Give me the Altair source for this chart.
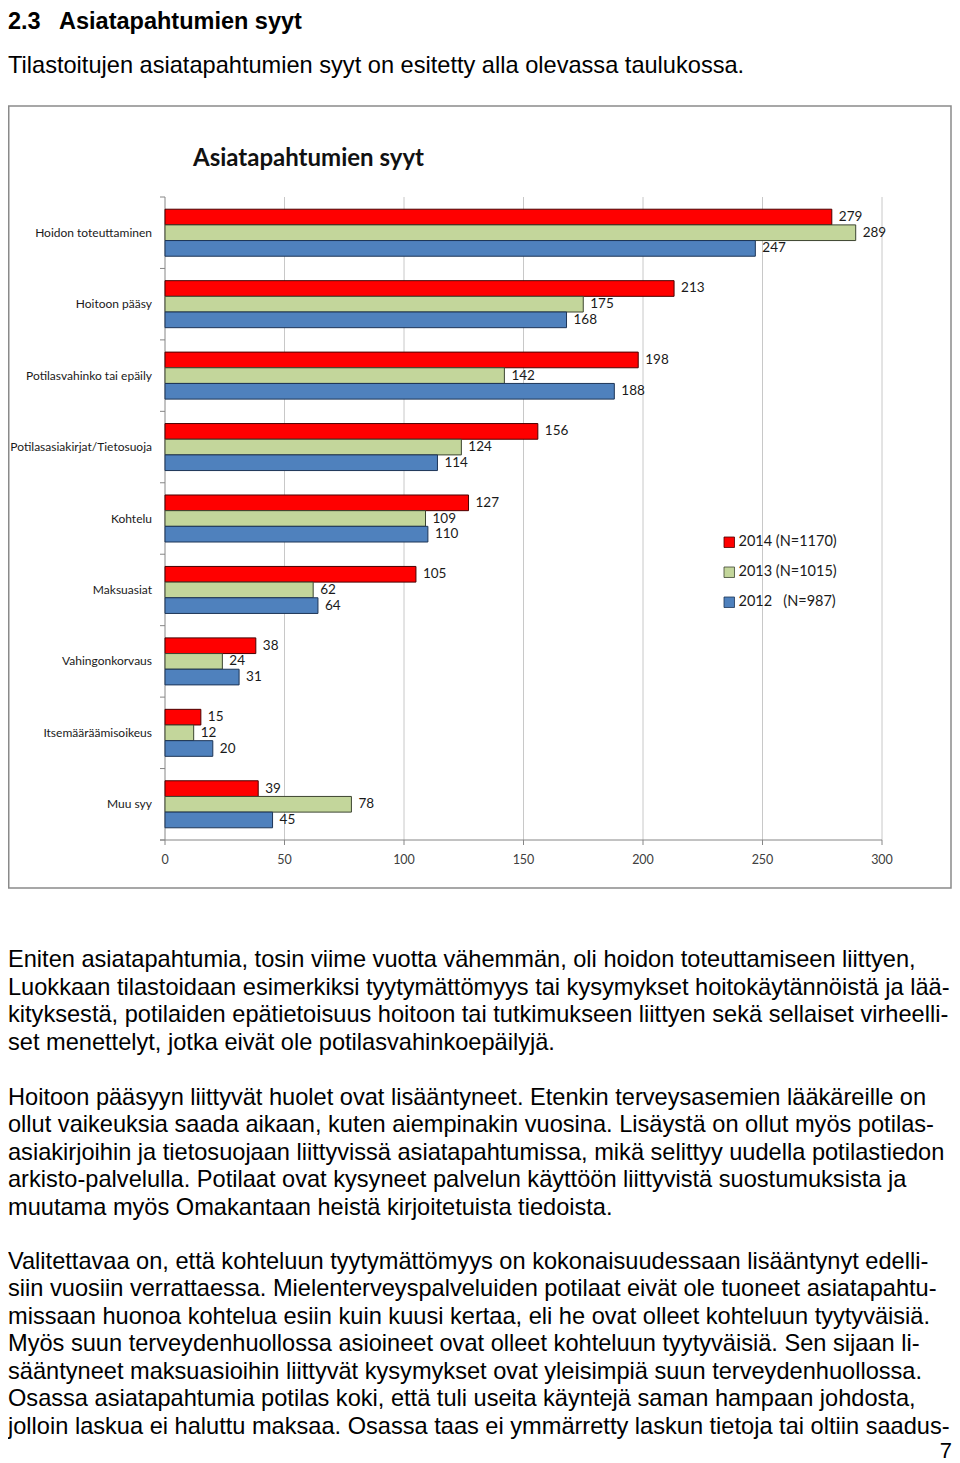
import altair as alt
import pandas as pd

# ---------------- data ----------------
categories = [
    "Hoidon toteuttaminen",
    "Hoitoon pääsy",
    "Potilasvahinko tai epäily",
    "Potilasasiakirjat/Tietosuoja",
    "Kohtelu",
    "Maksuasiat",
    "Vahingonkorvaus",
    "Itsemääräämisoikeus",
    "Muu syy",
]
series = ["2014 (N=1170)", "2013 (N=1015)", "2012\u00a0\u00a0 (N=987)"]
v2014 = [279, 213, 198, 156, 127, 105, 38, 15, 39]
v2013 = [289, 175, 142, 124, 109, 62, 24, 12, 78]
v2012 = [247, 168, 188, 114, 110, 64, 31, 20, 45]
x_ticks = [0, 50, 100, 150, 200, 250, 300]
band_edges = list(range(10))

bar_colors = ["#FF0000", "#C3D69B", "#4F81BD"]
bar_edges = ["#4a0000", "#3c4530", "#1d3557"]

heading_num = "2.3"
heading_txt = "Asiatapahtumien syyt"
chart_title = "Asiatapahtumien syyt"
intro = "Tilastoitujen asiatapahtumien syyt on esitetty alla olevassa taulukossa."
para1 = [
    "Eniten asiatapahtumia, tosin viime vuotta vähemmän, oli hoidon toteuttamiseen liittyen,",
    "Luokkaan tilastoidaan esimerkiksi tyytymättömyys tai kysymykset hoitokäytännöistä ja lää-",
    "kityksestä, potilaiden epätietoisuus hoitoon tai tutkimukseen liittyen sekä sellaiset virheelli-",
    "set menettelyt, jotka eivät ole potilasvahinkoepäilyjä.",
]
para2 = [
    "Hoitoon pääsyyn liittyvät huolet ovat lisääntyneet. Etenkin terveysasemien lääkäreille on",
    "ollut vaikeuksia saada aikaan, kuten aiempinakin vuosina. Lisäystä on ollut myös potilas-",
    "asiakirjoihin ja tietosuojaan liittyvissä asiatapahtumissa, mikä selittyy uudella potilastiedon",
    "arkisto-palvelulla. Potilaat ovat kysyneet palvelun käyttöön liittyvistä suostumuksista ja",
    "muutama myös Omakantaan heistä kirjoitetuista tiedoista.",
]
para3 = [
    "Valitettavaa on, että kohteluun tyytymättömyys on kokonaisuudessaan lisääntynyt edelli-",
    "siin vuosiin verrattaessa. Mielenterveyspalveluiden potilaat eivät ole tuoneet asiatapahtu-",
    "missaan huonoa kohtelua esiin kuin kuusi kertaa, eli he ovat olleet kohteluun tyytyväisiä.",
    "Myös suun terveydenhuollossa asioineet ovat olleet kohteluun tyytyväisiä. Sen sijaan li-",
    "sääntyneet maksuasioihin liittyvät kysymykset ovat yleisimpiä suun terveydenhuollossa.",
    "Osassa asiatapahtumia potilas koki, että tuli useita käyntejä saman hampaan johdosta,",
    "jolloin laskua ei haluttu maksaa. Osassa taas ei ymmärretty laskun tietoja tai oltiin saadus-",
]
page_no = "7"

# ---------------- tables ----------------
rows = []
for vals, s in zip([v2014, v2013, v2012], series):
    for c, v in zip(categories, vals):
        rows.append({"category": c, "series": s, "value": v})
df = pd.DataFrame(rows)
cat_df = pd.DataFrame({"category": categories})
tick_df = pd.DataFrame({"tick": x_ticks})
grid_df = pd.DataFrame({"tick": x_ticks[1:]})
edge_df = pd.DataFrame({"edge": band_edges})
one = pd.DataFrame({"a": [0]})

BODY = "'Liberation Sans', Arial, Helvetica, sans-serif"
CHART = "Lato, 'Liberation Sans', sans-serif"

xscale = alt.Scale(domain=[0, 300], range=[157, 874], nice=False, zero=True)
yscale = alt.Scale(domain=categories, range=[189, 832], paddingInner=0.342, paddingOuter=0.171)
yoff = alt.YOffset("series:N", scale=alt.Scale(domain=series, paddingInner=0, paddingOuter=0), sort=series)

frame = alt.Chart(one).mark_rect(fill="white", stroke="#8a8a8a", strokeWidth=1.5).encode(
    x=alt.value(0.75), x2=alt.value(943), y=alt.value(98), y2=alt.value(880)
)

grid = alt.Chart(grid_df).mark_rule(color="#C8C8C8", strokeWidth=1).encode(
    x=alt.X("tick:Q", scale=xscale, axis=None), y=alt.value(189), y2=alt.value(832)
)
xticks = alt.Chart(tick_df).mark_rule(color="#868686", strokeWidth=1).encode(
    x=alt.X("tick:Q", scale=xscale, axis=None), y=alt.value(832), y2=alt.value(837)
)
xlabels = alt.Chart(tick_df).mark_text(font=CHART, fontSize=12.5, color="#404040", baseline="middle").encode(
    x=alt.X("tick:Q", scale=xscale, axis=None), y=alt.value(852), text="tick:Q"
)
left_axis = alt.Chart(one).mark_rule(color="#868686", strokeWidth=1).encode(
    x=alt.value(157), y=alt.value(189), y2=alt.value(832)
)
bottom_axis = alt.Chart(one).mark_rule(color="#868686", strokeWidth=1).encode(
    x=alt.value(152), x2=alt.value(874), y=alt.value(832)
)
left_ticks = alt.Chart(edge_df).mark_rule(color="#868686", strokeWidth=1).encode(
    y=alt.Y("edge:Q", scale=alt.Scale(domain=[0, 9], range=[189, 832]), axis=None),
    x=alt.value(152), x2=alt.value(157),
)

bars = alt.Chart(df).mark_bar(strokeWidth=1).encode(
    x=alt.X("value:Q", scale=xscale, axis=None),
    y=alt.Y("category:N", scale=yscale, axis=None, sort=categories),
    yOffset=yoff,
    color=alt.Color(
        "series:N",
        scale=alt.Scale(domain=series, range=bar_colors),
        sort=series,
        legend=alt.Legend(
            orient="none", legendX=714, legendY=527, title=None,
            labelFont=CHART, labelFontSize=14.5, labelColor="#1a1a1a",
            symbolType="square", symbolSize=110, symbolStrokeColor="#333333",
            symbolStrokeWidth=0.8, rowPadding=14, labelOffset=2, padding=0,
        ),
    ),
    stroke=alt.Stroke("series:N", scale=alt.Scale(domain=series, range=bar_edges), legend=None),
)
bar_labels = alt.Chart(df).mark_text(
    font=CHART, fontSize=13.5, color="#1a1a1a", align="left", baseline="middle", dx=7
).encode(
    x=alt.X("value:Q", scale=xscale, axis=None),
    y=alt.Y("category:N", scale=yscale, axis=None, sort=categories),
    yOffset=yoff,
    text="value:Q",
)
cat_labels = alt.Chart(cat_df).mark_text(
    font=CHART, fontSize=12.0, color="#1a1a1a", align="right", baseline="middle"
).encode(
    y=alt.Y("category:N", scale=yscale, axis=None, sort=categories),
    x=alt.value(144),
    text="category:N",
)
main = alt.layer(bars, bar_labels, cat_labels)

title = alt.Chart(one).mark_text(
    text=chart_title, font=CHART, fontSize=24, fontWeight="bold", color="#111111",
    align="left", baseline="alphabetic"
).encode(x=alt.value(185), y=alt.value(158))

h1 = alt.Chart(one).mark_text(text=heading_num, font=BODY, fontSize=23.5, fontWeight="bold",
                               align="left", baseline="alphabetic", color="#000").encode(
    x=alt.value(0), y=alt.value(21))
h2 = alt.Chart(one).mark_text(text=heading_txt, font=BODY, fontSize=23.5, fontWeight="bold",
                               align="left", baseline="alphabetic", color="#000").encode(
    x=alt.value(51), y=alt.value(21))
intro_t = alt.Chart(one).mark_text(text=intro, font=BODY, fontSize=23.6,
                                   align="left", baseline="alphabetic", color="#000").encode(
    x=alt.value(0), y=alt.value(65))


def para(lines, y):
    return alt.Chart(one).mark_text(text=lines, font=BODY, fontSize=23.6, lineHeight=27.5,
                                    align="left", baseline="alphabetic", color="#000").encode(
        x=alt.value(0), y=alt.value(y))


p1 = para(para1, 959)
p2 = para(para2, 1096.5)
p3 = para(para3, 1260.5)
pn = alt.Chart(one).mark_text(text=page_no, font=BODY, fontSize=22, align="right",
                              baseline="alphabetic", color="#000").encode(
    x=alt.value(944), y=alt.value(1450))

chart = alt.layer(
    frame, grid, xticks, left_axis, bottom_axis, left_ticks, main, xlabels, title,
    h1, h2, intro_t, p1, p2, p3, pn,
).resolve_scale(y="independent").properties(
    width=944, height=1455, padding=0, autosize=alt.AutoSizeParams(type="none"),
    background="white",
).configure_view(stroke=None)

chart.save("out.html", embed_options={"renderer": "svg", "actions": False})
